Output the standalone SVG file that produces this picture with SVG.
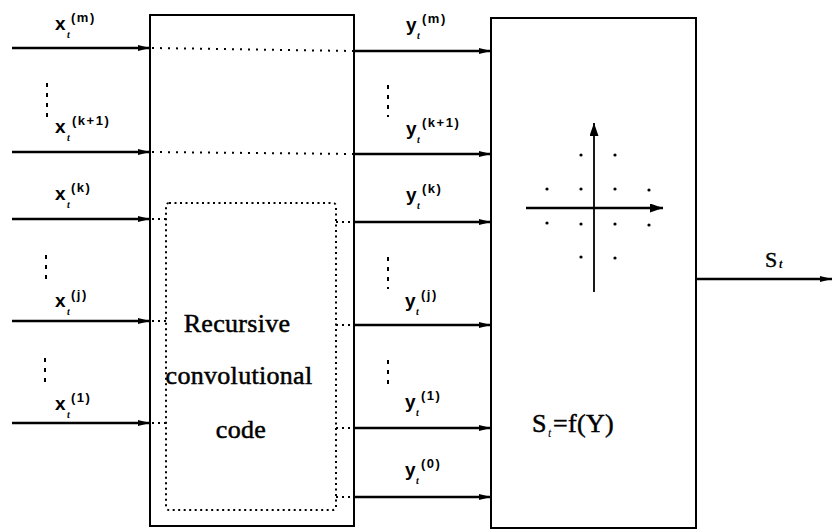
<svg xmlns="http://www.w3.org/2000/svg" width="833" height="531" viewBox="0 0 833 531">
  <defs>
    <marker id="head" viewBox="0 0 12 8" refX="12" refY="4" markerWidth="12" markerHeight="8" markerUnits="userSpaceOnUse" orient="auto">
      <path d="M0,1 L12,4 L0,7 z" fill="#000"/>
    </marker>
    <marker id="axisHead" viewBox="0 0 13 9" refX="13" refY="4.5" markerWidth="13" markerHeight="9" markerUnits="userSpaceOnUse" orient="auto">
      <path d="M0,0 L13,4.5 L0,9 z" fill="#000"/>
    </marker>
    <style>
      .box { fill: none; stroke: #000; stroke-width: 2; }
      .wire { stroke: #000; stroke-width: 2.4; fill: none; marker-end: url(#head); }
      .dots { stroke: #000; stroke-width: 2; fill: none; stroke-dasharray: 2 6; }
      .stub { stroke: #000; stroke-width: 2; fill: none; stroke-dasharray: 2 4; }
      .inner { stroke: #000; stroke-width: 2; fill: none; stroke-dasharray: 2 3.5; }
      .vdots { stroke: #000; stroke-width: 2; fill: none; stroke-dasharray: 4 6; }
      .axis { stroke: #000; stroke-width: 1.8; fill: none; marker-end: url(#axisHead); }
      .pt { fill: #000; }
      .var { font-family: "Liberation Sans", Arial, sans-serif; font-weight: bold; font-size: 19px; }
      .sup { font-family: "Liberation Sans", Arial, sans-serif; font-weight: bold; font-size: 13px; letter-spacing: 1.5px; }
      .sub { font-family: "Liberation Serif", "Times New Roman", serif; font-style: italic; font-weight: bold; font-size: 10px; }
      .body { font-family: "Liberation Serif", "Times New Roman", serif; font-size: 26px; letter-spacing: 0.3px; stroke: #000; stroke-width: 0.5px; }
      .bodySub { font-family: "Liberation Serif", "Times New Roman", serif; font-style: italic; font-size: 12px; }
      .outS { font-family: "Liberation Serif", "Times New Roman", serif; font-size: 22px; stroke: #000; stroke-width: 0.4px; }
      .outSub { font-family: "Liberation Serif", "Times New Roman", serif; font-style: italic; font-weight: bold; font-size: 12px; }
    </style>
  </defs>

  <!-- encoder block -->
  <g id="encoder">
    <rect class="box" x="150" y="15" width="204" height="511"/>
    <rect class="inner" x="166" y="203" width="170" height="307" rx="3"/>
    <text class="body" x="237" y="332" text-anchor="middle">Recursive</text>
    <text class="body" x="239" y="384" text-anchor="middle">convolutional</text>
    <text class="body" x="241" y="438" text-anchor="middle">code</text>
  </g>

  <!-- signal mapper block -->
  <g id="mapper">
    <rect class="box" x="491" y="18" width="205" height="510"/>
    <line class="axis" x1="594" y1="292" x2="594" y2="123"/>
    <line class="axis" x1="526" y1="208" x2="663" y2="208" style="stroke-width:2.4"/>
    <g id="constellation">
      <circle class="pt" cx="581" cy="155" r="1.6"/>
      <circle class="pt" cx="615" cy="155" r="1.6"/>
      <circle class="pt" cx="547" cy="189" r="1.6"/>
      <circle class="pt" cx="581" cy="189" r="1.6"/>
      <circle class="pt" cx="615" cy="189" r="1.6"/>
      <circle class="pt" cx="649" cy="190" r="1.6"/>
      <circle class="pt" cx="547" cy="223" r="1.6"/>
      <circle class="pt" cx="581" cy="224" r="1.6"/>
      <circle class="pt" cx="615" cy="224" r="1.6"/>
      <circle class="pt" cx="649" cy="225" r="1.6"/>
      <circle class="pt" cx="581" cy="257" r="1.6"/>
      <circle class="pt" cx="615" cy="258" r="1.6"/>
    </g>
    <text class="body" x="532" y="432">S</text>
    <text class="bodySub" x="548" y="437">t</text>
    <text class="body" x="553" y="432">=f(Y)</text>
  </g>

  <!-- connectors -->
  <g id="connectors">
    <!-- inputs -->
    <line class="wire" x1="12" y1="48" x2="150" y2="48"/>
    <line class="wire" x1="12" y1="152" x2="150" y2="152"/>
    <line class="wire" x1="12" y1="219" x2="150" y2="219"/>
    <line class="wire" x1="12" y1="321" x2="150" y2="321"/>
    <line class="wire" x1="12" y1="423" x2="150" y2="423"/>
    <!-- pass-through bits -->
    <line class="dots" x1="152" y1="48" x2="354" y2="51"/>
    <line class="dots" x1="152" y1="152" x2="354" y2="154"/>
    <!-- into / out of the coder -->
    <line class="stub" x1="152" y1="219" x2="166" y2="219"/>
    <line class="stub" x1="152" y1="321" x2="166" y2="321"/>
    <line class="stub" x1="152" y1="423" x2="166" y2="423"/>
    <line class="stub" x1="336" y1="222" x2="354" y2="222"/>
    <line class="stub" x1="336" y1="325" x2="354" y2="325"/>
    <line class="stub" x1="336" y1="428" x2="354" y2="428"/>
    <line class="stub" x1="336" y1="497" x2="354" y2="497"/>
    <!-- coded outputs -->
    <line class="wire" x1="354" y1="51" x2="491" y2="51"/>
    <line class="wire" x1="354" y1="154" x2="491" y2="154"/>
    <line class="wire" x1="354" y1="222" x2="491" y2="222"/>
    <line class="wire" x1="354" y1="325" x2="491" y2="325"/>
    <line class="wire" x1="354" y1="428" x2="491" y2="428"/>
    <line class="wire" x1="354" y1="497" x2="491" y2="497"/>
    <!-- channel symbol -->
    <line class="wire" x1="696" y1="279" x2="832" y2="279"/>
    <!-- omitted lines -->
    <line class="vdots" x1="47" y1="83" x2="47" y2="117"/>
    <line class="vdots" x1="46" y1="255" x2="46" y2="285"/>
    <line class="vdots" x1="45" y1="358" x2="45" y2="388"/>
    <line class="vdots" x1="388" y1="85" x2="388" y2="117"/>
    <line class="vdots" x1="388" y1="257" x2="388" y2="289"/>
    <line class="vdots" x1="388" y1="360" x2="388" y2="390"/>
  </g>

  <!-- signal labels -->
  <g id="labels">
    <text class="var" x="55" y="30">x</text><text class="sub" x="67" y="38">t</text><text class="sup" x="71" y="22">(m)</text>
    <text class="var" x="55" y="133">x</text><text class="sub" x="67" y="141">t</text><text class="sup" x="72" y="125">(k+1)</text>
    <text class="var" x="55" y="200">x</text><text class="sub" x="67" y="208">t</text><text class="sup" x="71" y="192">(k)</text>
    <text class="var" x="55" y="307">x</text><text class="sub" x="67" y="315">t</text><text class="sup" x="71" y="299">(j)</text>
    <text class="var" x="55" y="410">x</text><text class="sub" x="67" y="418">t</text><text class="sup" x="71" y="402">(1)</text>

    <text class="var" x="406" y="31">y</text><text class="sub" x="417" y="39">t</text><text class="sup" x="422" y="23">(m)</text>
    <text class="var" x="406" y="135">y</text><text class="sub" x="417" y="143">t</text><text class="sup" x="422" y="127">(k+1)</text>
    <text class="var" x="406" y="201">y</text><text class="sub" x="417" y="209">t</text><text class="sup" x="422" y="193">(k)</text>
    <text class="var" x="405" y="307">y</text><text class="sub" x="416" y="315">t</text><text class="sup" x="421" y="299">(j)</text>
    <text class="var" x="405" y="408">y</text><text class="sub" x="416" y="416">t</text><text class="sup" x="421" y="400">(1)</text>
    <text class="var" x="405" y="476">y</text><text class="sub" x="416" y="484">t</text><text class="sup" x="421" y="468">(0)</text>

    <text class="outS" x="765" y="267">S</text><text class="outSub" x="779" y="268">t</text>
  </g>
</svg>
